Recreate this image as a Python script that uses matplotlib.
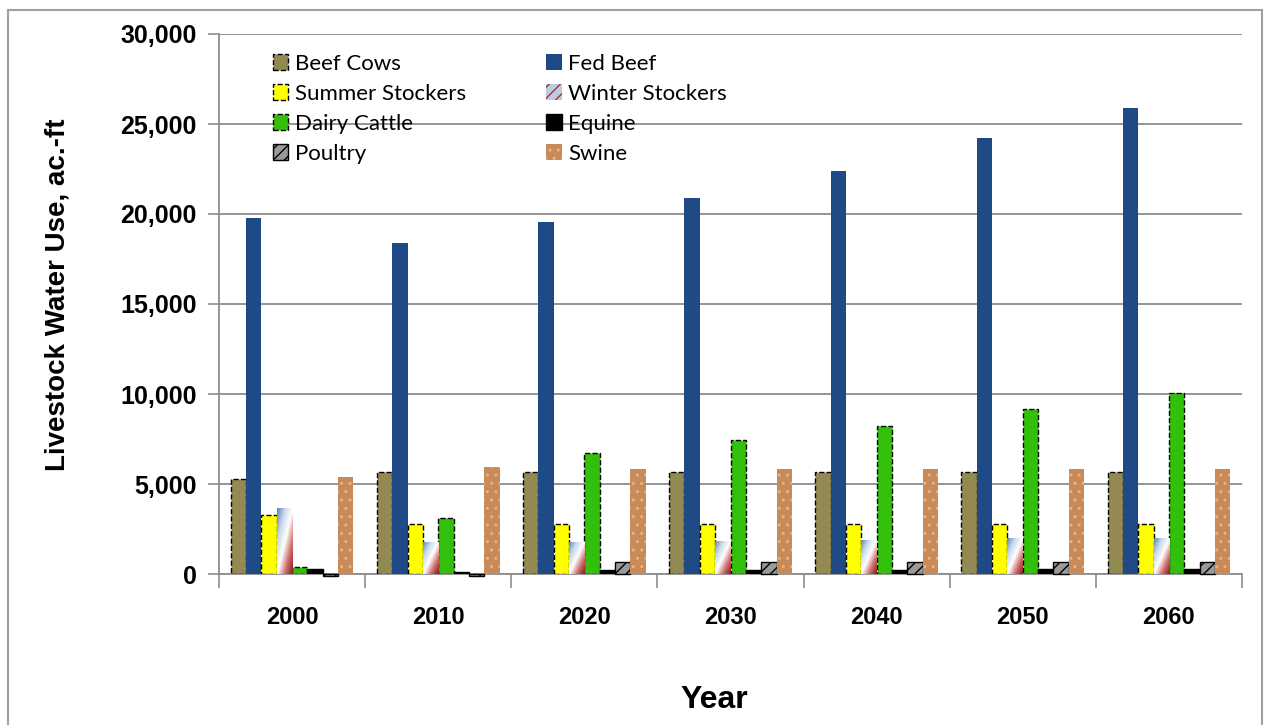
import numpy as np
import matplotlib
matplotlib.use("Agg")
import matplotlib.pyplot as plt
from matplotlib.patches import Rectangle, Patch
from matplotlib.colors import LinearSegmentedColormap
from matplotlib.ticker import FuncFormatter

# data (ac.-ft)
years = ["2000", "2010", "2020", "2030", "2040", "2050", "2060"]
beef_cows = [5300, 5650, 5650, 5650, 5650, 5650, 5650]
fed_beef = [19800, 18400, 19550, 20900, 22400, 24200, 25900]
summer_stockers = [3300, 2800, 2800, 2800, 2800, 2800, 2800]
winter_stockers = [3650, 1780, 1780, 1850, 1900, 2000, 2000]
dairy_cattle = [400, 3100, 6700, 7450, 8250, 9150, 10050]
equine = [300, 100, 200, 200, 200, 300, 300]
poultry = [-100, -100, 650, 650, 650, 650, 650]
swine = [5400, 5950, 5850, 5850, 5850, 5850, 5850]

series = [
    ("Beef Cows", beef_cows, dict(facecolor="#938953", edgecolor="black", linestyle="--", linewidth=1)),
    ("Fed Beef", fed_beef, dict(facecolor="#1f4a85", edgecolor="none")),
    ("Summer Stockers", summer_stockers, dict(facecolor="#ffff00", edgecolor="black", linestyle="--", linewidth=1)),
    ("Winter Stockers", winter_stockers, dict(facecolor="none", edgecolor="none")),
    ("Dairy Cattle", dairy_cattle, dict(facecolor="#33c00c", edgecolor="black", linestyle="--", linewidth=1)),
    ("Equine", equine, dict(facecolor="black", edgecolor="black")),
    ("Poultry", poultry, dict(facecolor="#9a9a9a", edgecolor="black", hatch="///", linewidth=1)),
    ("Swine", swine, dict(facecolor="#c98a58", edgecolor="#e2b48a", hatch="..", linewidth=0)),
]

fig = plt.figure(figsize=(12.66, 7.25), dpi=100)
ax = fig.add_axes([219 / 1266, 1 - 574 / 725, (1242 - 219) / 1266, (574 - 34) / 725])

x = np.arange(len(years))
n = len(series)
w = 0.105
offsets = (np.arange(n) - (n - 1) / 2) * w

grad_cmap = LinearSegmentedColormap.from_list(
    "ws", ["#5b86b8", "#c8d8ea", "#ffffff", "#d07070", "#8e1c1c"])
grad = np.add.outer(np.linspace(0, 1, 40), np.linspace(0, 1, 20)) / 2

containers = {}
for i, (name, vals, style) in enumerate(series):
    containers[name] = ax.bar(x + offsets[i], vals, width=w, zorder=3, **style)

# negative poultry values sit just under the axis line
for b in containers["Poultry"]:
    b.set_clip_on(False)

# gradient fill for winter stockers
for b in containers["Winter Stockers"]:
    bx, by = b.get_x(), b.get_y()
    bw, bh = b.get_width(), b.get_height()
    im = ax.imshow(grad, extent=[bx, bx + bw, by, by + bh], aspect="auto",
                   cmap=grad_cmap, origin="upper", zorder=3)
    im.set_clip_path(b)

ax.set_xlim(-0.5, len(years) - 0.5)
ax.set_ylim(0, 30000)
ax.set_yticks(np.arange(0, 30001, 5000))
ax.yaxis.set_major_formatter(FuncFormatter(lambda v, p: f"{int(v):,}"))
ax.grid(axis="y", color="#8c8c8c", linewidth=1.3, zorder=0)
ax.set_axisbelow(True)

for s in ["top", "right"]:
    ax.spines[s].set_visible(False)
for s in ["left", "bottom"]:
    ax.spines[s].set_color("#8c8c8c")
    ax.spines[s].set_linewidth(1.3)

ax.tick_params(axis="y", colors="#8c8c8c", length=8, width=1.2, pad=8)
for lab in ax.get_yticklabels():
    lab.set_color("black")
    lab.set_fontsize(18)
    lab.set_fontweight("bold")
    lab.set_family(["Liberation Sans", "DejaVu Sans"])

# x ticks at group boundaries, labels at centres
ax.set_xticks(np.arange(-0.5, len(years)), labels=[""] * (len(years) + 1))
ax.tick_params(axis="x", which="major", colors="#8c8c8c", length=10, width=1.2)
ax.set_xticks(x, labels=years, minor=True)
ax.tick_params(axis="x", which="minor", length=0, pad=23)
for lab in ax.get_xticklabels(minor=True):
    lab.set_fontsize(17)
    lab.set_fontweight("bold")
    lab.set_family(["Liberation Sans", "DejaVu Sans"])

fig.text(58 / 1266, 1 - 295 / 725, "Livestock Water Use, ac.-ft", rotation=90,
         ha="center", va="center", fontsize=20, fontweight="bold",
         family=["Liberation Sans", "DejaVu Sans"])
fig.text(714 / 1266, 1 - 700 / 725, "Year", ha="center", va="center",
         fontsize=23, fontweight="bold",
         family=["Liberation Sans", "DejaVu Sans"])

# legend (row-wise order in two columns)
handles = {name: containers[name][0] for name, _, _ in series}
handles["Winter Stockers"] = Patch(facecolor="#b8cde4", edgecolor="#b03030", hatch="///", linewidth=0)
order = ["Beef Cows", "Summer Stockers", "Dairy Cattle", "Poultry",
         "Fed Beef", "Winter Stockers", "Equine", "Swine"]
leg = ax.legend([handles[k] for k in order], order, ncol=2, frameon=False,
                loc="upper left", bbox_to_anchor=(0.033, 1.0),
                prop={"family": ["Lato", "DejaVu Sans"], "size": 16},
                handlelength=0.7, handleheight=0.7, handletextpad=0.3,
                labelspacing=0.45, columnspacing=3.6)

# outer frame
fig.add_artist(Rectangle((8 / 1266, -0.1), (1262 - 8) / 1266, 1.1 - 10 / 725,
                         transform=fig.transFigure, fill=False,
                         edgecolor="#a0a0a0", linewidth=1.5))

fig.savefig("out.png", dpi=100)
